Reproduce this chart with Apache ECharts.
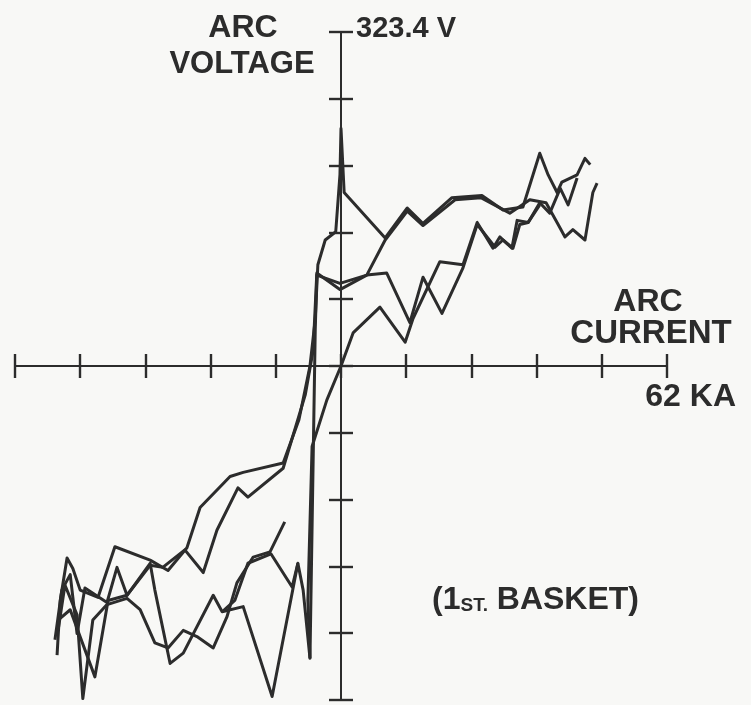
<!DOCTYPE html>
<html>
<head>
<meta charset="utf-8">
<script src="https://cdn.jsdelivr.net/npm/echarts@6/dist/echarts.min.js"></script>
<style>
html,body{margin:0;padding:0;background:#f8f8f6;}
#c{width:751px;height:705px;}
</style>
</head>
<body>
<div id="c"></div>
<script>
// Axis scales
var currentMaxKA = 62;      // 62 KA at right end
var voltageMaxV = 323.4;    // 323.4 V at top
var currentStep = 12.4;
var voltageStep = 64.68;

// Trace A (current KA, voltage V)
var traceA_ka = [-54.0,-53.4,-52.1,-51.0,-49.6,-46.2,-43.0,-36.3,-32.9,-29.3,-26.8,-21.1,-18.6,-11.0,-8.0,-5.9,-4.9,-4.4,-3.0,-1.0,-0.2,0.0,0.6,8.4,12.6,15.6,21.1,26.8,30.8,34.6,37.8,39.4,41.1,42.0,44.9,46.4,47.4];
var traceA_v  = [-280,-227,-186,-196,-217,-224,-175,-188,-198,-176,-137,-107,-103,-94,-52,0,45,98,122,130,185,230,168,124,153,138,163,165,151,154,206,185,168,178,185,201,195];

// Trace B
var traceB_ka = [-54.4,-53.1,-51.5,-50.2,-48.7,-44.5,-42.6,-40.7,-36.3,-33.9,-29.7,-26.2,-23.6,-19.6,-17.7,-11.0,-6.8,-5.3,-4.6,-0.2,4.9,8.4,12.6,15.6,21.7,26.6,32.1,35.9,39.0,41.3,42.6,44.1,46.4,47.9,48.7];
var traceB_v  = [-265,-217,-202,-259,-215,-229,-195,-222,-193,-195,-178,-200,-159,-118,-127,-99,-28,15,90,74,88,122,150,136,161,163,148,161,158,137,125,132,122,168,177];

// Trace C
var traceC_ka = [-53.8,-51.5,-46.8,-44.3,-40.7,-36.3,-35.4,-32.5,-30.0,-24.3,-22.6,-18.6,-13.1,-8.2,-7.2,-5.9,-4.9,-4.6,-0.2,4.9,8.7,13.1,15.6,19.2,23.2,25.9,29.3,30.8,32.7,34.0,35.6,37.8,39.7,41.7,43.2,44.9];
var traceC_v  = [-246,-236,-301,-227,-222,-191,-217,-288,-278,-222,-238,-233,-320,-191,-217,-283,35,88,80,88,90,42,86,51,95,137,115,122,114,137,139,158,148,172,156,182];

// Trace D
var traceD_ka = [-10.7,-13.5,-16.7,-19.8,-21.7,-24.3,-27.4,-30.0,-32.9,-35.4,-38.2,-40.7,-44.5,-47.2,-49.1,-50.2,-52.5,-53.8];
var traceD_v  = [-151,-180,-185,-210,-243,-273,-262,-256,-273,-268,-236,-225,-231,-246,-322,-241,-212,-256];

// Trace E (return path through origin)
var traceE_ka = [37.8,35.6,33.5,32.5,30.2,28.9,25.9,23.2,18.8,13.7,12.2,7.4,2.3,0.0,-2.7,-5.5,-6.3,-5.9];
var traceE_v  = [156,139,141,114,125,114,139,98,101,46,23,57,32,0,-33,-78,-227,-283];

// Trace F
var traceF_ka = [-8.2,-9.3,-13.3,-17.7,-20.2,-22.6];
var traceF_v  = [-191,-214,-182,-191,-227,-238];

var traces = [
  [traceA_ka, traceA_v],
  [traceB_ka, traceB_v],
  [traceC_ka, traceC_v],
  [traceD_ka, traceD_v],
  [traceE_ka, traceE_v],
  [traceF_ka, traceF_v]
];

var ink = '#2c2c2c';
var fontFam = '"Liberation Sans", Arial, sans-serif';

function pairs(xs, ys){ var out=[]; for (var i=0;i<xs.length;i++) out.push([xs[i], ys[i]]); return out; }

var series = traces.map(function(t){
  return {
    type:'line', xAxisIndex:0, yAxisIndex:0,
    data: pairs(t[0], t[1]),
    symbol:'none', smooth:false, clip:false,
    lineStyle:{color:ink, width:3, join:'round'},
    z:5, silent:true, animation:false
  };
});

function xAx(pos){
  return {
    type:'value', position:pos, min:-currentMaxKA, max:currentMaxKA, interval:currentStep,
    axisLine:{show:true, onZero:true, onZeroAxisIndex:0, lineStyle:{color:ink, width:2}},
    axisTick:{show:true, length:12, lineStyle:{color:ink, width:2.4}},
    axisLabel:{show:false}, splitLine:{show:false}
  };
}
function yAx(pos){
  return {
    type:'value', position:pos, min:-voltageMaxV, max:voltageMaxV, interval:voltageStep,
    axisLine:{show:true, onZero:true, onZeroAxisIndex:0, lineStyle:{color:ink, width:2}},
    axisTick:{show:true, length:12, lineStyle:{color:ink, width:2.4}},
    axisLabel:{show:false}, splitLine:{show:false}
  };
}

function txt(text, x, y, align, size){
  return {type:'text', x:x, y:y, z:10, style:{text:text, fill:ink, fontWeight:'bold', fontSize:size, fontFamily:fontFam, textAlign:align, textVerticalAlign:'middle'}};
}

var chart = echarts.init(document.getElementById('c'), null, {renderer:'canvas'});
chart.setOption({
  backgroundColor:'#f8f8f6',
  animation:false,
  grid:{left:15, right:84, top:32, bottom:5, containLabel:false},
  xAxis:[xAx('bottom'), xAx('top')],
  yAxis:[yAx('left'), yAx('right')],
  series: series,
  graphic:[
    txt('ARC', 243, 28, 'center', 32),
    txt('VOLTAGE', 242, 64, 'center', 31),
    txt('323.4 V', 356, 29, 'left', 29),
    txt('ARC', 648, 302, 'center', 32),
    txt('CURRENT', 651, 334, 'center', 33),
    txt('62 KA', 736, 397, 'right', 32),
    {type:'text', x:432, y:600, z:10, style:{
      text:'{a|(1}{s|ST.}{a| BASKET)}',
      textVerticalAlign:'middle',
      rich:{
        a:{fontSize:32, fontWeight:'bold', fontFamily:fontFam, fill:ink, color:ink},
        s:{fontSize:19, fontWeight:'bold', fontFamily:fontFam, fill:ink, color:ink, padding:[12,0,0,0]}
      }
    }}
  ]
});
</script>
</body>
</html>
